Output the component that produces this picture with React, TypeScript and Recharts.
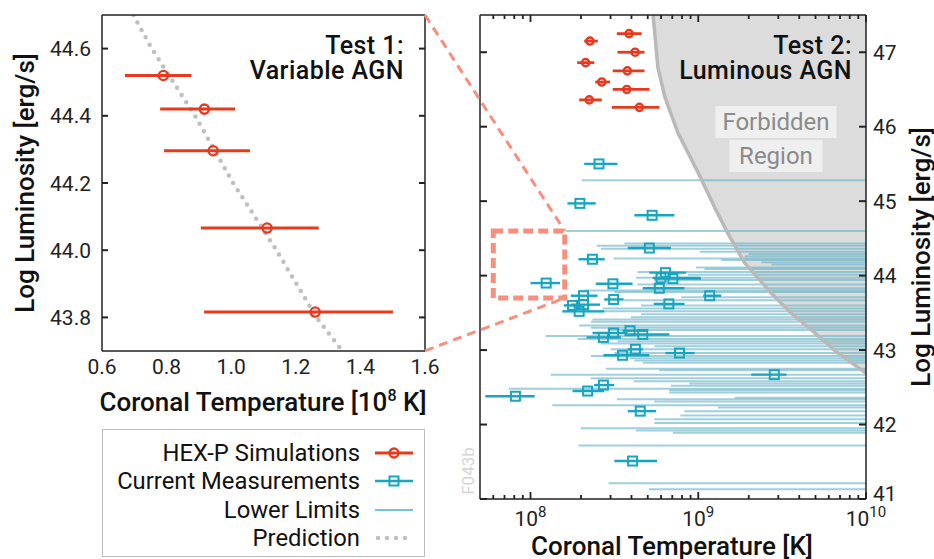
import React from 'react';
import {
    ComposedChart,
    ErrorBar,
    Line,
    ReferenceArea,
    ReferenceLine,
    Scatter,
    XAxis,
    YAxis,
} from 'recharts';

const FONT = 'Roboto, "Noto Sans", sans-serif';
const RED = '#e63a1e';
const CYAN = '#17a5c1';
const LIMIT_BLUE = '#6db5c9';
const DASH_RED = '#f88e7c';
const FRAME = '#222222';
const GRAY_DOTS = '#bfbfbf';

// Test 1: variable AGN (temperature in 10^8 K)
const variableT = [0.79, 0.917, 0.944, 1.111, 1.26];
const variableL = [44.52, 44.42, 44.296, 44.066, 43.816];
const variableTLow = [0.671, 0.78, 0.792, 0.906, 0.916];
const variableTHigh = [0.877, 1.012, 1.058, 1.271, 1.501];

const predictionT = [0.697, 0.754, 0.888, 1.006, 1.14, 1.264, 1.336];
const predictionL = [44.7, 44.6, 44.4, 44.2, 44.0, 43.8, 43.71];

const leftXTicks = [0.6, 0.8, 1.0, 1.2, 1.4, 1.6];
const leftYTicks = [43.8, 44.0, 44.2, 44.4, 44.6];

// Test 2: luminous AGN (temperature in K)
const luminousT = [3.87e8, 4.2e8, 3.78e8, 3.75e8, 4.46e8, 2.26e8, 2.13e8, 2.66e8, 2.24e8];
const luminousL = [47.25, 47.0, 46.75, 46.5, 46.26, 47.15, 46.86, 46.6, 46.36];
const luminousTLow = [3.27e8, 3.3e8, 3.09e8, 3.09e8, 3.05e8, 2.09e8, 1.9e8, 2.43e8, 1.95e8];
const luminousTHigh = [4.6e8, 4.78e8, 4.78e8, 5.12e8, 5.87e8, 2.52e8, 2.4e8, 2.98e8, 2.66e8];

// current measurements
const measT = [2.56e8, 1.97e8, 5.31e8, 5.11e8, 2.34e8, 1.24e8, 3.1e8, 6.37e8, 6.0e8, 7.06e8, 5.86e8, 2.07e8, 3.13e8, 2.07e8, 1.78e8, 1.95e8, 6.68e8, 1.17e9, 3.13e8, 2.72e8, 3.92e8, 4.67e8, 4.22e8, 3.54e8, 7.73e8, 2.84e9, 2.72e8, 2.19e8, 8.13e7, 4.51e8, 4.06e8];
const measL = [45.5, 44.97, 44.81, 44.37, 44.22, 43.9, 43.89, 44.04, 43.97, 43.96, 43.83, 43.73, 43.68, 43.61, 43.6, 43.52, 43.62, 43.73, 43.23, 43.17, 43.26, 43.21, 43.01, 42.93, 42.96, 42.67, 42.53, 42.45, 42.38, 42.18, 41.51];
const measTLow = [2.09e8, 1.66e8, 4.16e8, 3.8e8, 1.93e8, 1.0e8, 2.45e8, 5.11e8, 5.36e8, 5.46e8, 4.67e8, 1.74e8, 2.75e8, 1.74e8, 1.58e8, 1.55e8, 5.43e8, 1.07e9, 2.34e8, 2.16e8, 3.54e8, 3.8e8, 3.8e8, 2.72e8, 6.37e8, 2.07e9, 2.39e8, 1.78e8, 5.38e7, 3.8e8, 3.16e8];
const measTHigh = [3.3e8, 2.45e8, 7.21e8, 6.88e8, 2.77e8, 1.5e8, 4.06e8, 8.47e8, 1.03e9, 1.04e9, 8.28e8, 2.51e8, 3.59e8, 2.6e8, 1.99e8, 2.75e8, 8.28e8, 1.37e9, 3.8e8, 3.46e8, 5.0e8, 6.73e8, 4.67e8, 5.11e8, 9.51e8, 3.36e9, 3.16e8, 2.75e8, 1.06e8, 5.61e8, 5.68e8];

// lower limits: start temperature, luminosity (each runs to the right edge)
const limitT = [2.02e8, 1.62e8, 3.62e8, 2.48e8, 2.63e8, 1.02e9, 1.99e9, 1.89e9, 3.13e8, 1.37e9, 2.38e9, 2.73e9, 9.7e8, 1.09e9, 4.35e8, 8.67e8, 4.26e8, 5.47e8, 4.35e8, 4.67e8, 2.09e8, 3.16e8, 7.91e8, 3.62e8, 4.56e8, 2.69e8, 1.55e8, 4.56e8, 3.97e8, 2.34e8, 2.29e8, 1.95e8, 2.29e8, 2.88e8, 1.23e8, 1.91e8, 3.3e8, 2.63e8, 5.47e8, 3.01e8, 3.16e8, 2.29e8, 3.88e8, 4.16e8, 4.67e8, 2.81e8, 5.86e8, 1.32e8, 2.29e8, 4.12e8, 8.83e8, 6.88e8, 7.41e7, 6.7e8, 6.7e8, 1.65e9, 3.27e8, 5.47e8, 1.35e8, 1.31e9, 8.28e8, 7.83e8, 5.47e8, 5.47e8, 1.99e8, 4.26e8, 7.06e8, 1.93e8, 2.92e8, 5.07e8];
const limitL = [45.28, 44.6, 44.43, 44.4, 44.36, 44.32, 44.29, 44.26, 44.23, 44.21, 44.18, 44.15, 44.11, 44.09, 44.05, 44.01, 43.97, 43.94, 43.88, 43.83, 43.8, 43.78, 43.71, 43.67, 43.6, 43.56, 43.52, 43.48, 43.44, 43.41, 43.38, 43.33, 43.3, 43.27, 43.19, 43.15, 43.12, 43.09, 43.05, 43.01, 42.96, 42.92, 42.89, 42.86, 42.83, 42.75, 42.73, 42.67, 42.62, 42.58, 42.55, 42.52, 42.48, 42.46, 42.43, 42.36, 42.34, 42.31, 42.26, 42.23, 42.18, 42.12, 42.07, 42.02, 41.95, 41.92, 41.89, 41.72, 41.21, 41.13];

// forbidden region boundary
const forbiddenT = [5.38e8, 5.74e8, 6.32e8, 7.56e8, 1.0e9, 1.25e9, 1.5e9, 1.89e9, 2.71e9, 3.56e9, 4.96e9, 6.81e9, 1e10];
const forbiddenL = [47.5, 46.8, 46.4, 45.92, 45.38, 44.92, 44.57, 44.17, 43.77, 43.5, 43.23, 42.96, 42.69];

// zoom box and connectors (right-panel coordinates)
const zoomBoxT = [6e7, 1.6e8];
const zoomBoxL = [43.7, 44.6];
const connectorT = [2.35e7, 1.6e8];
const connectorTopL = [47.5, 44.6];
const connectorBottomL = [42.99, 43.7];

const rightXTicks = [
    6e7, 7e7, 8e7, 9e7, 1e8, 2e8, 3e8, 4e8, 5e8, 6e8, 7e8, 8e8, 9e8,
    1e9, 2e9, 3e9, 4e9, 5e9, 6e9, 7e9, 8e9, 9e9, 1e10,
];
const rightYTicks = [41, 42, 43, 44, 45, 46, 47];

const T_MAX = 1e10;

function withErrors(t: number[], l: number[], lo: number[], hi: number[]) {
    return t.map((x, i) => ({x, y: l[i], err: [x - lo[i], hi[i] - x]}));
}

function zipXY(t: number[], l: number[]) {
    return t.map((x, i) => ({x, y: l[i]}));
}

const variableData = withErrors(variableT, variableL, variableTLow, variableTHigh);
const predictionData = zipXY(predictionT, predictionL);
const luminousData = withErrors(luminousT, luminousL, luminousTLow, luminousTHigh);
const measData = withErrors(measT, measL, measTLow, measTHigh);
const forbiddenData = zipXY(forbiddenT, forbiddenL);

const tickText = {fontFamily: FONT, fontSize: 21, fill: '#222'};
const axisLine = {stroke: FRAME, strokeWidth: 1.5};

type TickProps = {x?: number; y?: number; payload?: {value: number}};

function LeftXTick({x = 0, y = 0, payload}: TickProps) {
    return (
        <text x={x} y={y + 23} textAnchor="middle" {...tickText}>
            {(payload?.value ?? 0).toFixed(1)}
        </text>
    );
}

function LeftYTick({x = 0, y = 0, payload}: TickProps) {
    return (
        <g>
            <line x1={x} x2={x + 6} y1={y} y2={y} stroke={FRAME} strokeWidth={2}/>
            <text x={x - 11} y={y} dy="0.36em" textAnchor="end" {...tickText}>
                {(payload?.value ?? 0).toFixed(1)}
            </text>
        </g>
    );
}

function InnerRightTick({x = 0, y = 0}: TickProps) {
    return <line x1={x - 6} x2={x} y1={y} y2={y} stroke={FRAME} strokeWidth={2}/>;
}

function InnerLeftTick({x = 0, y = 0}: TickProps) {
    return <line x1={x} x2={x + 7} y1={y} y2={y} stroke={FRAME} strokeWidth={2}/>;
}

function RightYTick({x = 0, y = 0, payload}: TickProps) {
    // the lowest label sits a little higher so it clears the 10^10 label
    const lift = payload?.value === rightYTicks[0] ? -6 : 0;
    return (
        <g>
            <line x1={x - 7} x2={x} y1={y} y2={y} stroke={FRAME} strokeWidth={2}/>
            <text x={x + 7} y={y + lift} dy="0.36em" textAnchor="start" {...tickText}>
                {payload?.value}
            </text>
        </g>
    );
}

function LogTick({x = 0, y = 0, payload, side}: TickProps & {side: 'top' | 'bottom'}) {
    const lg = Math.log10(payload?.value ?? 1);
    const exp = Math.round(lg);
    const major = Math.abs(lg - exp) < 1e-6;
    const len = major ? 7 : 4;
    const dir = side === 'bottom' ? -1 : 1;
    return (
        <g>
            <line x1={x} x2={x} y1={y} y2={y + dir * len} stroke={FRAME} strokeWidth={1.8}/>
            {major && side === 'bottom' && (
                <text x={x} y={y + 27} textAnchor="middle" {...tickText}>
                    10<tspan dy={-9} fontSize={15}>{exp}</tspan>
                </text>
            )}
        </g>
    );
}

function redCircle(r: number) {
    return (props: any) => (
        <circle cx={props.cx} cy={props.cy} r={r} fill="none" stroke={RED} strokeWidth={2.4}/>
    );
}

function cyanSquare(props: any) {
    return (
        <rect x={props.cx - 4.5} y={props.cy - 4.5} width={9} height={9} fill="none" stroke={CYAN} strokeWidth={2}/>
    );
}

const noMarker = () => <g/>;

// the boundary points come in already scaled; close them along the top-right of the plot
function forbiddenFill(props: any) {
    const pts: {x: number; y: number}[] = props.points ?? [];
    if (pts.length < 2) return <g/>;
    const first = pts[0];
    const last = pts[pts.length - 1];
    const d = pts.map((p, i) => `${i === 0 ? 'M' : 'L'}${p.x},${p.y}`).join(' ')
        + ` L${last.x},${first.y} Z`;
    return <path d={d} fill="#dcdcdc" stroke="none"/>;
}

function forbiddenEdge(props: any) {
    const pts: {x: number; y: number}[] = props.points ?? [];
    return (
        <polyline points={pts.map((p) => `${p.x},${p.y}`).join(' ')} fill="none" stroke="#b9b9b9"
                  strokeWidth={3.5} strokeLinejoin="round"/>
    );
}

function VariableChart() {
    return (
        <ComposedChart width={440} height={420} margin={{top: 0, right: 0, bottom: 0, left: 0}}>
            <XAxis dataKey="x" type="number" domain={[0.6, 1.6]} allowDataOverflow ticks={leftXTicks}
                   interval={0} height={69} tickSize={0} tickMargin={0} axisLine={axisLine} tickLine={false}
                   tick={(p: any) => <LeftXTick {...p}/>}/>
            <XAxis xAxisId="top" orientation="top" dataKey="x" type="number" domain={[0.6, 1.6]}
                   allowDataOverflow height={15} axisLine={axisLine} tickLine={false} tick={false}/>
            <YAxis dataKey="y" type="number" domain={[43.7, 44.7]} allowDataOverflow ticks={leftYTicks}
                   interval={0} width={102} tickSize={0} tickMargin={0} axisLine={axisLine} tickLine={false}
                   tick={(p: any) => <LeftYTick {...p}/>}/>
            <YAxis yAxisId="right" orientation="right" dataKey="y" type="number" domain={[43.7, 44.7]}
                   allowDataOverflow ticks={leftYTicks} interval={0} width={15} tickSize={0} tickMargin={0}
                   axisLine={axisLine} tickLine={false} tick={(p: any) => <InnerRightTick {...p}/>}/>
            <Line data={predictionData} dataKey="y" stroke={GRAY_DOTS} strokeWidth={4.5}
                  strokeDasharray="0 8.5" strokeLinecap="round" dot={false} isAnimationActive={false}/>
            <Scatter data={variableData} shape={redCircle(4.6)} isAnimationActive={false}>
                <ErrorBar dataKey="err" direction="x" width={0} stroke={RED} strokeWidth={3}
                          isAnimationActive={false}/>
            </Scatter>
        </ComposedChart>
    );
}

function LuminousChart() {
    return (
        <ComposedChart width={934} height={559} margin={{top: 0, right: 0, bottom: 0, left: 0}}>
            <XAxis dataKey="x" type="number" scale="log" domain={[5e7, T_MAX]} allowDataOverflow
                   ticks={rightXTicks} interval={0} height={60} tickSize={0} tickMargin={0}
                   axisLine={axisLine} tickLine={false} tick={(p: any) => <LogTick {...p} side="bottom"/>}/>
            <XAxis xAxisId="top" orientation="top" dataKey="x" type="number" scale="log" domain={[5e7, T_MAX]}
                   allowDataOverflow ticks={rightXTicks} interval={0} height={15} tickSize={0} tickMargin={0}
                   axisLine={axisLine} tickLine={false} tick={(p: any) => <LogTick {...p} side="top"/>}/>
            <YAxis dataKey="y" type="number" domain={[41, 47.5]} allowDataOverflow ticks={rightYTicks}
                   interval={0} width={480} tickSize={0} tickMargin={0} axisLine={axisLine} tickLine={false}
                   tick={(p: any) => <InnerLeftTick {...p}/>}/>
            <YAxis yAxisId="right" orientation="right" dataKey="y" type="number" domain={[41, 47.5]}
                   allowDataOverflow ticks={rightYTicks} interval={0} width={68} tickSize={0} tickMargin={0}
                   axisLine={axisLine} tickLine={false} tick={(p: any) => <RightYTick {...p}/>}/>

            <Scatter data={forbiddenData} shape={noMarker} line={forbiddenFill} isAnimationActive={false}
                     zIndex={100}/>

            {limitT.map((t, i) => (
                <ReferenceLine key={`lim-${i}`} segment={[{x: t, y: limitL[i]}, {x: T_MAX, y: limitL[i]}]}
                               stroke={LIMIT_BLUE} strokeOpacity={0.65} strokeWidth={2}
                               ifOverflow="visible" zIndex={300}/>
            ))}

            <Scatter data={forbiddenData} shape={noMarker} line={forbiddenEdge} isAnimationActive={false}
                     zIndex={450}/>

            <Scatter data={measData} shape={cyanSquare} isAnimationActive={false} zIndex={600}>
                <ErrorBar dataKey="err" direction="x" width={0} stroke={CYAN} strokeWidth={2.4}
                          isAnimationActive={false}/>
            </Scatter>
            <Scatter data={luminousData} shape={redCircle(3.6)} isAnimationActive={false} zIndex={600}>
                <ErrorBar dataKey="err" direction="x" width={0} stroke={RED} strokeWidth={2.8}
                          isAnimationActive={false}/>
            </Scatter>

            <ReferenceArea x1={zoomBoxT[0]} x2={zoomBoxT[1]} y1={zoomBoxL[0]} y2={zoomBoxL[1]}
                           fill="none" fillOpacity={0} stroke={DASH_RED} strokeWidth={5}
                           strokeDasharray="10 5" ifOverflow="visible" zIndex={700}/>
            <ReferenceLine segment={[{x: connectorT[0], y: connectorTopL[0]}, {x: connectorT[1], y: connectorTopL[1]}]}
                           stroke={DASH_RED} strokeWidth={3} strokeDasharray="9 6" ifOverflow="visible" zIndex={700}/>
            <ReferenceLine segment={[{x: connectorT[0], y: connectorBottomL[0]}, {x: connectorT[1], y: connectorBottomL[1]}]}
                           stroke={DASH_RED} strokeWidth={3} strokeDasharray="9 6" ifOverflow="visible" zIndex={700}/>
        </ComposedChart>
    );
}

const abs = (left: number, top: number): React.CSSProperties => ({position: 'absolute', left, top});

function CenteredText({cx, cy, vertical = false, style, children}: {
    cx: number; cy: number; vertical?: boolean; style?: React.CSSProperties; children: React.ReactNode;
}) {
    return (
        <div style={{
            ...abs(cx, cy),
            transform: vertical ? 'translate(-50%, -50%) rotate(180deg)' : 'translate(-50%, -50%)',
            writingMode: vertical ? 'vertical-rl' : undefined,
            whiteSpace: 'nowrap',
            ...style,
        }}>
            {children}
        </div>
    );
}

const titleStyle: React.CSSProperties = {fontSize: 26, fontWeight: 500, color: '#111', lineHeight: '26px'};

type LegendKind = 'hexp' | 'meas' | 'limit' | 'pred';

function LegendSymbol({kind}: {kind: LegendKind}) {
    return (
        <svg width={42} height={14} style={{display: 'block'}}>
            {kind === 'hexp' && (
                <g>
                    <line x1={2} x2={40} y1={7} y2={7} stroke={RED} strokeWidth={3}/>
                    <circle cx={21} cy={7} r={4.5} fill="none" stroke={RED} strokeWidth={2.4}/>
                </g>
            )}
            {kind === 'meas' && (
                <g>
                    <line x1={2} x2={40} y1={7} y2={7} stroke={CYAN} strokeWidth={2.4}/>
                    <rect x={16.5} y={2.5} width={9} height={9} fill="none" stroke={CYAN} strokeWidth={2}/>
                </g>
            )}
            {kind === 'limit' && <line x1={2} x2={40} y1={7} y2={7} stroke="#3fb0c9" strokeWidth={1.6}/>}
            {kind === 'pred' && (
                <line x1={5} x2={38} y1={7} y2={7} stroke={GRAY_DOTS} strokeWidth={4.5}
                      strokeDasharray="0 9" strokeLinecap="round"/>
            )}
        </svg>
    );
}

const legendLabels = ['HEX-P Simulations', 'Current Measurements', 'Lower Limits', 'Prediction'];
const legendKinds: LegendKind[] = ['hexp', 'meas', 'limit', 'pred'];

function LegendBox() {
    return (
        <div style={{
            ...abs(102, 429), width: 323, height: 128, boxSizing: 'border-box',
            border: '1.5px solid #bdbdbd', background: '#fff',
        }}>
            {legendLabels.map((label, i) => (
                <div key={label} style={{...abs(0, 9 + i * 28.3), width: 321, height: 28}}>
                    <div style={{
                        ...abs(0, 0), width: 257, textAlign: 'right', fontSize: 23.8, lineHeight: '28px',
                        color: '#111',
                    }}>
                        {label}
                    </div>
                    <div style={abs(270, 7)}>
                        <LegendSymbol kind={legendKinds[i]}/>
                    </div>
                </div>
            ))}
        </div>
    );
}

const panelLabel: React.CSSProperties = {
    textAlign: 'right', fontSize: 25, fontWeight: 500, letterSpacing: 0.45, lineHeight: '25px', color: '#111',
};

export default function App() {
    return (
        <div style={{position: 'relative', width: 934, height: 559, overflow: 'hidden', fontFamily: FONT, background: '#fff'}}>
            <style>{'body{margin:0}'}</style>
            <div style={abs(0, 0)}>
                <VariableChart/>
            </div>
            <div style={abs(0, 0)}>
                <LuminousChart/>
            </div>

            <div style={{pointerEvents: 'none'}}>
                <div style={{...abs(0, 33), width: 404, ...panelLabel}}>
                    <div>Test 1:</div>
                    <div>Variable AGN</div>
                </div>
                <div style={{...abs(0, 33), width: 852, ...panelLabel}}>
                    <div>Test 2:</div>
                    <div>Luminous AGN</div>
                </div>

                <div style={{
                    ...abs(776, 106), transform: 'translateX(-50%)', display: 'flex', flexDirection: 'column',
                    alignItems: 'center', gap: 2, color: '#8a8a8a', fontSize: 24,
                }}>
                    <span style={{background: '#efefef', padding: '0 7px', lineHeight: '32px'}}>Forbidden</span>
                    <span style={{background: '#efefef', padding: '0 10px', lineHeight: '32px'}}>Region</span>
                </div>

                <CenteredText cx={25} cy={183} vertical style={titleStyle}>Log Luminosity [erg/s]</CenteredText>
                <CenteredText cx={263} cy={402} style={{...titleStyle, lineHeight: '30px'}}>
                    Coronal Temperature [10<sup style={{fontSize: '0.62em', lineHeight: 0}}>8</sup> K]
                </CenteredText>
                <CenteredText cx={672} cy={546} style={{...titleStyle, lineHeight: '30px'}}>Coronal Temperature [K]</CenteredText>
                <CenteredText cx={921} cy={257} vertical style={titleStyle}>Log Luminosity [erg/s]</CenteredText>
                <CenteredText cx={468} cy={471} vertical style={{fontSize: 17, color: '#d4d4d4', lineHeight: '20px'}}>F043b</CenteredText>

                <LegendBox/>
            </div>
        </div>
    );
}
